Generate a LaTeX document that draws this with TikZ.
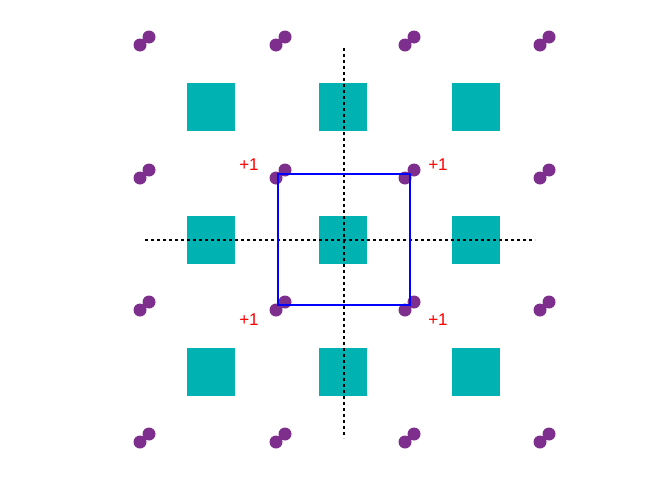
\documentclass[tikz,border=0pt]{standalone}
\usepackage{fontspec}
\setmainfont{Liberation Sans}
\definecolor{tealc}{HTML}{00B2B2}
\definecolor{purp}{HTML}{7E2F8E}
\begin{document}
\begin{tikzpicture}[x=1pt,y=-1pt,
  sq/.style={fill=tealc,draw=none,minimum size=48pt,inner sep=0pt},
  dot/.style={fill=purp},
  lab/.style={text=red,font=\fontsize{17}{17}\selectfont}]
\useasboundingbox (0,0) rectangle (664,498);
\foreach \x [count=\i] in {211,343,476}
  \foreach \y [count=\j] in {107,240,372}
    \node[sq] (s\i\j) at (\x,\y) {};
\foreach \x in {140,276,405,540}
  \foreach \y in {45,178,310,442}{
    \fill[dot] (\x,\y) circle (6.5pt);
    \fill[dot] (\x+9,\y-8) circle (6.5pt);
  }
\draw[dashed,line width=1.3pt] (145,240) -- (535,240);
\draw[dashed,line width=1.3pt] (344,48) -- (344,438);
\draw[blue,line width=1.5pt] (278,174) rectangle (410,305);
\node[lab] (l1) at (249,165) {+1};
\node[lab] (l2) at (438,165) {+1};
\node[lab] (l3) at (249,320) {+1};
\node[lab] (l4) at (438,320) {+1};
\end{tikzpicture}
\end{document}
